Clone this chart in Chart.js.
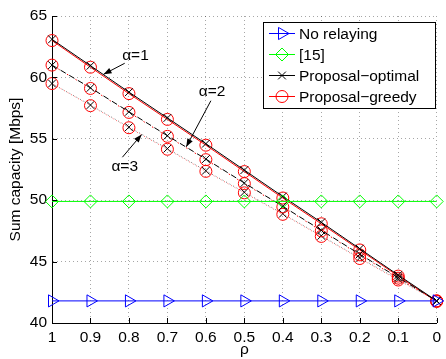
<!DOCTYPE html>
<html><head><meta charset="utf-8">
<script src="https://cdn.jsdelivr.net/npm/chart.js@4/dist/chart.umd.min.js"></script>
<style>html,body{margin:0;padding:0;background:#fff}#wrap{width:446px;height:359px}</style>
</head><body><div id="wrap"><canvas id="c" width="446" height="359"></canvas></div>
<script>
// ---- data ----
const rho = [1, 0.9, 0.8, 0.7, 0.6, 0.5, 0.4, 0.3, 0.2, 0.1, 0];
const xTickLabels = ['1','0.9','0.8','0.7','0.6','0.5','0.4','0.3','0.2','0.1','0'];
const yTickValues = [40, 45, 50, 55, 60, 65];
const noRelaying = [41.8, 41.8, 41.8, 41.8, 41.8, 41.8, 41.8, 41.8, 41.8, 41.8, 41.8];
const ref15 = [49.9, 49.9, 49.9, 49.9, 49.9, 49.9, 49.9, 49.9, 49.9, 49.9, 49.9];
const optimalA1 = [63.1, 60.95, 58.8, 56.7, 54.6, 52.45, 50.3, 48.2, 46.05, 43.9, 41.8];
const greedyA1  = [63.0, 60.83, 58.68, 56.58, 54.48, 52.33, 50.18, 48.08, 45.95, 43.82, 41.75];
const optimalA2 = [61.0, 59.15, 57.2, 55.25, 53.35, 51.4, 49.5, 47.55, 45.6, 43.7, 41.8];
const greedyA2  = [61.0, 59.1, 57.15, 55.2, 53.3, 51.35, 49.45, 47.5, 45.55, 43.65, 41.8];
const optimalA3 = [59.5, 57.75, 55.95, 54.2, 52.4, 50.65, 48.9, 47.1, 45.3, 43.55, 41.8];
const greedyA3  = [59.5, 57.7, 55.9, 54.15, 52.35, 50.6, 48.85, 47.05, 45.25, 43.5, 41.8];
const legendLabels = ['No relaying', '[15]', 'Proposal\u2212optimal', 'Proposal\u2212greedy'];
const alphaLabels = ['\u03b1=1', '\u03b1=2', '\u03b1=3'];

const FONT = '"Liberation Sans", Arial, Helvetica, sans-serif';
const FS = 15.5;
const pts = ys => rho.map((x, i) => ({x: x, y: ys[i]}));

const BLUE = '#0000ff', GREEN = '#00ff00', RED = '#ff0000', BLACK = '#000000';
const styles = {
  none: {pointStyle: 'triangle', rotation: 90, radius: 7, color: BLUE},
  ref:  {pointStyle: 'rectRot', rotation: 0, radius: 6.5, color: GREEN},
  opt:  {pointStyle: 'crossRot', rotation: 0, radius: 5.5, color: BLACK},
  gre:  {pointStyle: 'circle', rotation: 0, radius: 6, color: RED}
};

function ds(label, ys, st, lineColor, dash, dashOffset, order) {
  return {
    label: label, data: pts(ys), borderColor: lineColor, backgroundColor: 'rgba(0,0,0,0)',
    borderWidth: 1, borderDash: dash, borderDashOffset: dashOffset, pointStyle: st.pointStyle, pointRotation: st.rotation,
    pointRadius: st.radius, pointHoverRadius: st.radius, pointBorderColor: st.color,
    pointBackgroundColor: 'rgba(0,0,0,0)', pointBorderWidth: 1, tension: 0, fill: false, order: order, clip: false
  };
}

const datasets = [
  ds(legendLabels[0], noRelaying, styles.none, BLUE, [], 0, 1),
  ds(legendLabels[1], ref15, styles.ref, GREEN, [], 0, 1),
  ds(legendLabels[2] + ' a1', optimalA1, styles.opt, BLACK, [], 0, 2),
  ds(legendLabels[2] + ' a2', optimalA2, styles.opt, BLACK, [6, 4], 0, 2),
  ds(legendLabels[2] + ' a3', optimalA3, styles.opt, 'rgba(0,0,0,0.55)', [1, 3], 0, 4),
  ds(legendLabels[3] + ' a1', greedyA1, styles.gre, RED, [], 0, 3),
  ds(legendLabels[3] + ' a2', greedyA2, styles.gre, RED, [1.5, 8.5], -7.5, 3),
  ds(legendLabels[3] + ' a3', greedyA3, styles.gre, 'rgba(255,60,60,0.8)', [1, 3], -2, 2)
];

// annotations in data coordinates
const annotations = [
  {text: alphaLabels[0], tx: 0.783, ty: 61.75, from: [0.811, 61.15], to: [0.866, 60.25]},
  {text: alphaLabels[1], tx: 0.584, ty: 58.85, from: [0.587, 58.1], to: [0.651, 54.35]},
  {text: alphaLabels[2], tx: 0.811, ty: 52.75, from: [0.817, 53.5], to: [0.767, 55.35]}
];

function drawMarker(ctx, st, x, y) {
  ctx.save();
  ctx.strokeStyle = st.color; ctx.lineWidth = 1; ctx.setLineDash([]);
  const r = st.radius;
  ctx.beginPath();
  if (st.pointStyle === 'triangle') {
    ctx.moveTo(x + r, y); ctx.lineTo(x - r / 2, y - r * 0.866); ctx.lineTo(x - r / 2, y + r * 0.866); ctx.closePath();
  } else if (st.pointStyle === 'rectRot') {
    ctx.moveTo(x - r, y); ctx.lineTo(x, y - r); ctx.lineTo(x + r, y); ctx.lineTo(x, y + r); ctx.closePath();
  } else if (st.pointStyle === 'crossRot') {
    const o = r * Math.SQRT1_2;
    ctx.moveTo(x - o, y - o); ctx.lineTo(x + o, y + o); ctx.moveTo(x - o, y + o); ctx.lineTo(x + o, y - o);
  } else {
    ctx.arc(x, y, r, 0, Math.PI * 2);
  }
  ctx.stroke();
  ctx.restore();
}

const extras = {
  id: 'extras',
  afterDatasetsDraw(chart) {
    const ctx = chart.ctx, xs = chart.scales.x, ys = chart.scales.y, ca = chart.chartArea;
    // inner ticks
    ctx.save();
    ctx.strokeStyle = '#000'; ctx.lineWidth = 1; ctx.setLineDash([]);
    ctx.beginPath();
    xs.ticks.forEach(t => { const p = Math.round(xs.getPixelForValue(t.value)) + 0.5; ctx.moveTo(p, ca.bottom); ctx.lineTo(p, ca.bottom - 5); });
    ys.ticks.forEach(t => { const p = Math.round(ys.getPixelForValue(t.value)) + 0.5; ctx.moveTo(ca.left, p); ctx.lineTo(ca.left + 5, p); });
    ctx.stroke();
    // annotations
    ctx.font = FS + 'px ' + FONT; ctx.fillStyle = '#000'; ctx.textAlign = 'center'; ctx.textBaseline = 'middle';
    annotations.forEach(a => {
      ctx.fillText(a.text, xs.getPixelForValue(a.tx), ys.getPixelForValue(a.ty));
      const x1 = xs.getPixelForValue(a.from[0]), y1 = ys.getPixelForValue(a.from[1]);
      const x2 = xs.getPixelForValue(a.to[0]), y2 = ys.getPixelForValue(a.to[1]);
      ctx.beginPath(); ctx.moveTo(x1, y1); ctx.lineTo(x2, y2); ctx.stroke();
      const ang = Math.atan2(y2 - y1, x2 - x1), L = 8, W = 3;
      ctx.beginPath();
      ctx.moveTo(x2, y2);
      ctx.lineTo(x2 - L * Math.cos(ang) + W * Math.sin(ang), y2 - L * Math.sin(ang) - W * Math.cos(ang));
      ctx.lineTo(x2 - L * Math.cos(ang) - W * Math.sin(ang), y2 - L * Math.sin(ang) + W * Math.cos(ang));
      ctx.closePath(); ctx.fill();
    });
    // legend
    const bx = 263.5, by = 22.5, bw = 172, bh = 86;
    ctx.fillStyle = '#fff'; ctx.fillRect(bx, by, bw, bh);
    ctx.strokeStyle = '#000'; ctx.strokeRect(bx, by, bw, bh);
    const st = [styles.none, styles.ref, styles.opt, styles.gre];
    const rowY = [33.5, 54.5, 75.5, 96.5];
    ctx.textAlign = 'left'; ctx.textBaseline = 'middle';
    legendLabels.forEach((lab, i) => {
      ctx.strokeStyle = st[i].color; ctx.lineWidth = 1;
      ctx.beginPath(); ctx.moveTo(269, rowY[i]); ctx.lineTo(295, rowY[i]); ctx.stroke();
      drawMarker(ctx, st[i], 282, rowY[i]);
      ctx.fillStyle = '#000';
      ctx.fillText(lab, 299, rowY[i] + 1);
    });
    ctx.restore();
  }
};

new Chart(document.getElementById('c'), {
  type: 'line',
  data: {datasets: datasets},
  options: {
    responsive: false, animation: false, devicePixelRatio: 1,
    layout: {padding: {top: 16, right: 7, left: 0, bottom: 0}},
    plugins: {legend: {display: false}, tooltip: {enabled: false}},
    scales: {
      x: {
        type: 'linear', reverse: true, min: 0, max: 1,
        afterBuildTicks: s => { s.ticks = rho.map(v => ({value: v})); },
        afterFit: s => { s.height = 36; },
        ticks: {color: '#000', font: {family: FONT, size: FS}, padding: 5, maxRotation: 0,
          callback: (v) => xTickLabels[rho.findIndex(r => Math.abs(r - v) < 1e-9)]},
        grid: {color: 'rgba(0,0,0,0.35)', lineWidth: 1, tickLength: 0, drawTicks: false},
        border: {display: true, color: '#000', width: 1, dash: [1, 3]},
        title: {display: true, text: '\u03c1', color: '#000', font: {family: FONT, size: FS}, padding: {top: 0, bottom: 0}}
      },
      y: {
        type: 'linear', min: 40, max: 65,
        afterBuildTicks: s => { s.ticks = yTickValues.map(v => ({value: v})); },
        afterFit: s => { s.width = 52; },
        ticks: {color: '#000', font: {family: FONT, size: FS}, padding: 5},
        grid: {color: 'rgba(0,0,0,0.35)', lineWidth: 1, tickLength: 0, drawTicks: false},
        border: {display: true, color: '#000', width: 1, dash: [1, 3]},
        title: {display: true, text: 'Sum capacity [Mbps]', color: '#000', font: {family: FONT, size: FS}, padding: {top: 6, bottom: 0}}
      }
    }
  },
  plugins: [extras]
});
</script>
</body></html>
